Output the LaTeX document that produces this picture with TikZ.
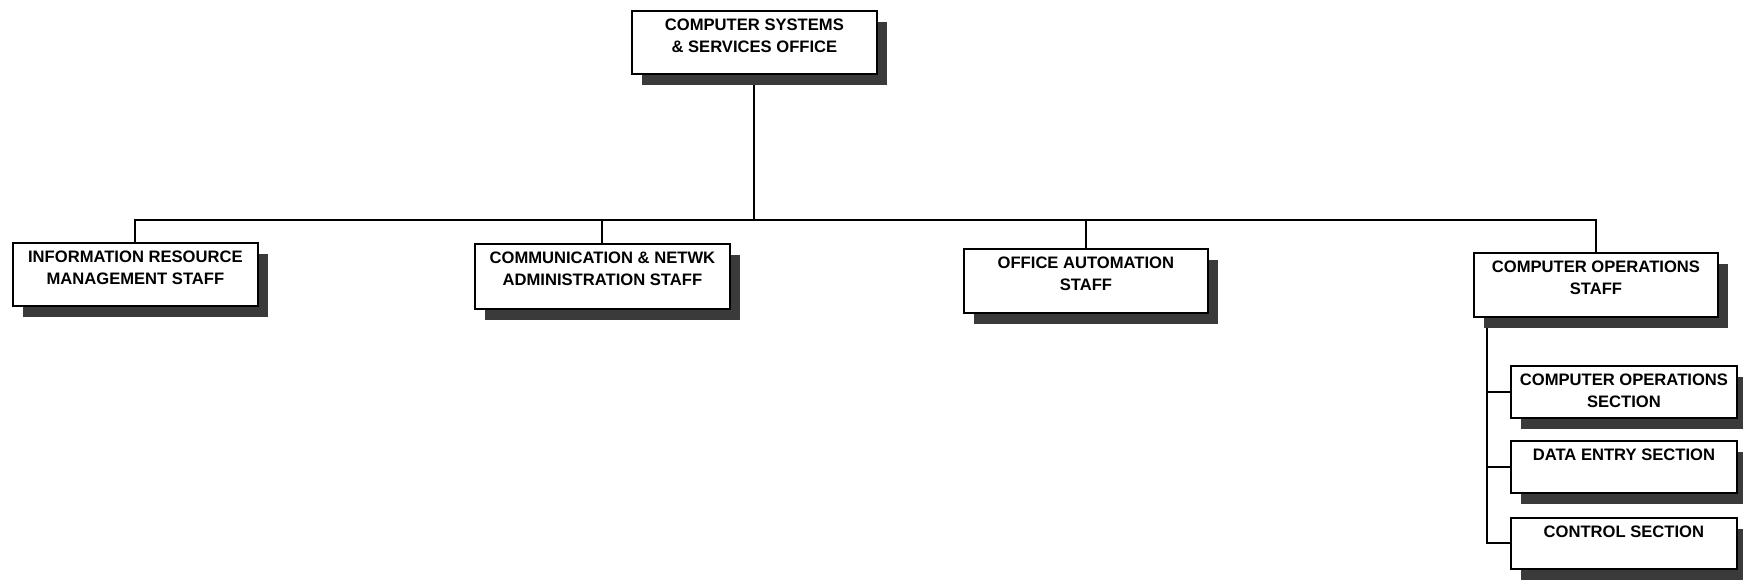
\documentclass[tikz,border=0pt]{standalone}
\usepackage{fontspec}
\setmainfont{Liberation Sans}
\usetikzlibrary{shadows,backgrounds,calc}
\definecolor{shadowgray}{RGB}{58,58,58}
\newcommand{\boxtext}[3]{\parbox[c][#2pt][t]{#1pt}{\centering\rule{0pt}{20pt}#3}}
\tikzset{
  orgbox/.style={draw=black, line width=1.8pt, fill=white, inner sep=0pt, anchor=north west,
    font=\bfseries\fontsize{16.6}{21.5}\selectfont,
    drop shadow={shadow xshift=10pt, shadow yshift=-11pt, fill=shadowgray, opacity=1}},
  link/.style={draw=black, line width=1.9pt}
}
\begin{document}
\begin{tikzpicture}[x=1pt,y=-1pt]
\useasboundingbox (0,0) rectangle (1743,581);
\node[orgbox] (A) at (631,10) {\boxtext{245}{63}{COMPUTER SYSTEMS\\\& SERVICES OFFICE}};
\node[orgbox] (B1) at (12,242) {\boxtext{245}{63}{INFORMATION RESOURCE\\MANAGEMENT STAFF}};
\node[orgbox] (B2) at (474,243) {\boxtext{255}{65}{COMMUNICATION \& NETWK\\ADMINISTRATION STAFF}};
\node[orgbox] (B3) at (963,248) {\boxtext{244}{64}{OFFICE AUTOMATION\\STAFF}};
\node[orgbox] (B4) at (1473,252) {\boxtext{244}{64}{COMPUTER OPERATIONS\\STAFF}};
\node[orgbox] (C1) at (1510,365) {\boxtext{226}{52}{COMPUTER OPERATIONS\\SECTION}};
\node[orgbox] (C2) at (1510,440) {\boxtext{226}{52}{DATA ENTRY SECTION}};
\node[orgbox] (C3) at (1510,517) {\boxtext{226}{51}{CONTROL SECTION}};
\coordinate (bus) at (753,220);
\coordinate (trunk) at ($(B4.south west)+(14,0)$);
\begin{scope}[on background layer]
  \draw[link] (A.south) -- (A.south |- bus);
  \draw[link] (B1.north) -- (B1.north |- bus) -- (B4.north |- bus) -- (B4.north);
  \draw[link] (B2.north) -- (B2.north |- bus);
  \draw[link] (B3.north) -- (B3.north |- bus);
  \draw[link] (trunk) -- (trunk |- C3.west) -- (C3.west);
  \draw[link] (trunk |- C1.west) -- (C1.west);
  \draw[link] (trunk |- C2.west) -- (C2.west);
\end{scope}
\end{tikzpicture}
\end{document}
